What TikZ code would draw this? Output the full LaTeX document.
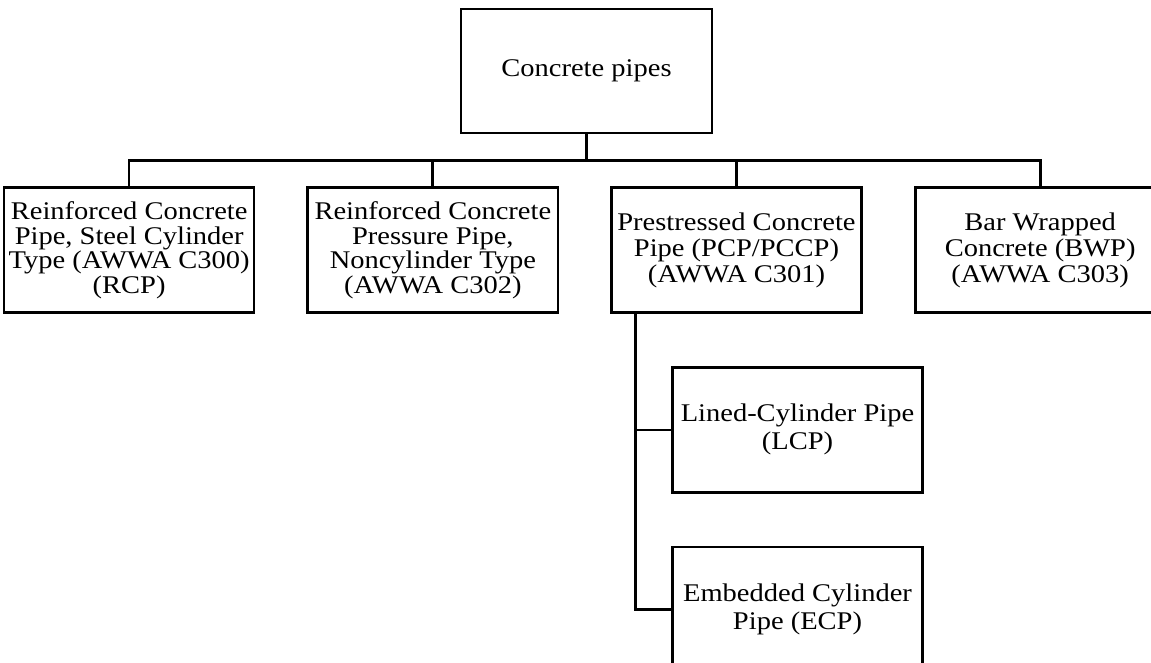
\documentclass[tikz,border=0pt]{standalone}
\usepackage{fontspec}
\setmainfont{Liberation Serif}[FakeStretch=1.12]
\usetikzlibrary{positioning, calc}

\begin{document}
\begin{tikzpicture}[
      node distance=1.3cm and 1.275cm,
      base/.style={rectangle, draw, line width=1.9pt, minimum width=6.275cm, minimum height=3.1cm, align=center, inner sep=0pt, font=\fontsize{18.1pt}{18.5pt}\selectfont},
      child/.style={base, minimum width=6.25cm, minimum height=3.125cm},
      tallchild/.style={child, font=\fontsize{18.1pt}{17.4pt}\selectfont},
      leaf/.style={child, font=\fontsize{18.1pt}{19.9pt}\selectfont},
      link/.style={line width=1.9pt}
    ]
    \useasboundingbox (0,0) rectangle (28.775,-16.575);

    \node[base] (pipes) at (14.6625,-1.775) {Concrete pipes};

    \node[child, below=of pipes, xshift=3.75cm] (pcp) {Prestressed Concrete\\Pipe (PCP/PCCP)\\(AWWA C301)};
    \node[tallchild, left=of pcp] (noncyl) {Reinforced Concrete\\Pressure Pipe,\\Noncylinder Type\\(AWWA C302)};
    \node[tallchild, left=of noncyl] (rcp) {Reinforced Concrete\\Pipe, Steel Cylinder\\Type (AWWA C300)\\(RCP)};
    \node[child, right=of pcp] (bwp) {Bar Wrapped\\Concrete (BWP)\\(AWWA C303)};

    \node[leaf, below right=1.3cm and 1.525cm of pcp.south west] (lcp) {Lined-Cylinder Pipe\\(LCP)};
    \node[leaf, below=of lcp] (ecp) {Embedded Cylinder\\Pipe (ECP)};

    \coordinate (bus) at ($(pipes.south)+(0,-0.65)$);
    \coordinate (trunk) at ($(pcp.south west)+(0.625,0)$);

    \draw[link] (pipes.south) -- (bus);
    \draw[link] (rcp.north) |- (bus) -| (bwp.north);
    \draw[link] (noncyl.north) -- (noncyl.north |- bus);
    \draw[link] (pcp.north) -- (pcp.north |- bus);

    \draw[link] (trunk) |- (ecp.west);
    \draw[link] (lcp.west) -- (lcp.west -| trunk);
  \end{tikzpicture}
\end{document}
